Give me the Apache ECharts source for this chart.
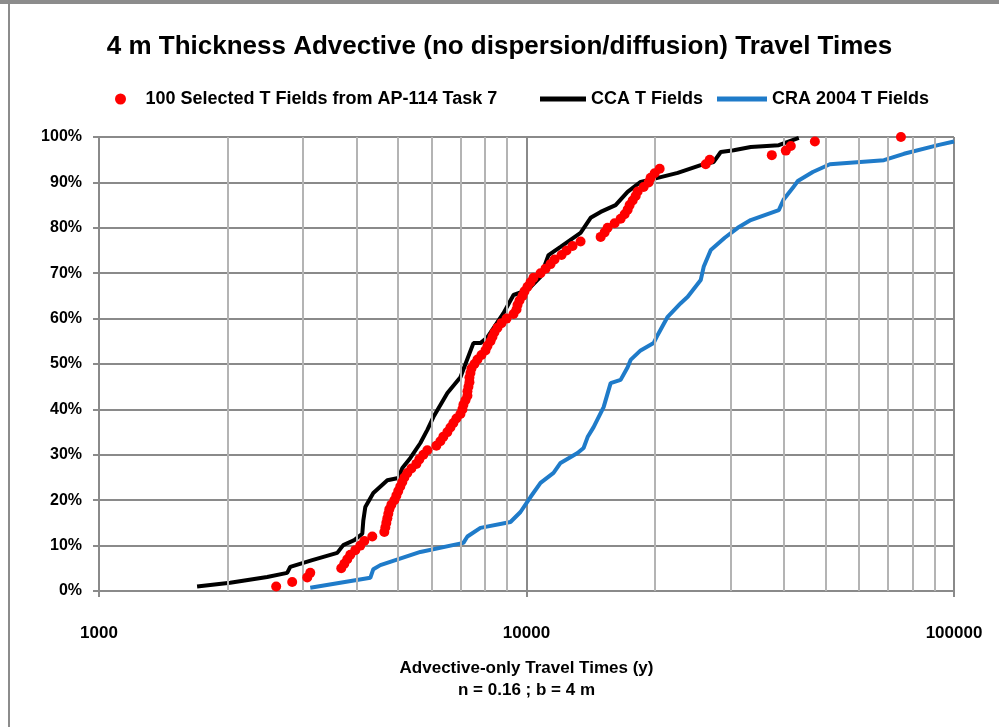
<!DOCTYPE html>
<html><head><meta charset="utf-8">
<script src="https://cdn.jsdelivr.net/npm/echarts@6/dist/echarts.min.js"></script>
<style>html,body{margin:0;padding:0;background:#fff}#c{width:999px;height:727px}</style>
</head><body><div id="c"></div>
<script>
// ---- Data ----
const titleText = '4 m Thickness Advective (no dispersion/diffusion) Travel Times';
const seriesNames = ['100 Selected T Fields from AP-114 Task 7', 'CCA T Fields', 'CRA 2004 T Fields'];
const xAxisName = 'Advective-only Travel Times (y)\nn = 0.16 ; b = 4 m';

// 100 selected T fields: travel time (y) and cumulative percent
const redTime = [2597,2831,3070,3120,3687,3748,3809,3871,3977,4085,
  4174,4358,4650,4675,4700,4726,4751,4777,4829,4908,
  4961,5012,5067,5122,5179,5263,5378,5525,5615,5737,
  5862,6154,6288,6391,6530,6637,6745,6855,7005,7081,
  7119,7197,7275,7275,7314,7354,7354,7394,7434,7555,
  7679,7846,8017,8104,8236,8325,8416,8553,8740,8979,
  9324,9476,9527,9630,9787,9893,10054,10218,10385,10784,
  11079,11382,11629,12077,12408,12815,13380,14910,15232,15480,
  16075,16604,16966,17242,17430,17714,18003,18198,18793,19307,
  19517,19942,20488,26259,26827,37482,40420,41525,47268,75136];
const redPct = [1,2,3,4,5,6,7,8,9,10,11,12,13,14,15,16,17,18,19,20,
  21,22,23,24,25,26,27,28,29,30,31,32,33,34,35,36,37,38,39,40,
  41,42,43,44,45,46,47,48,49,50,51,52,53,54,55,56,57,58,59,60,
  61,62,63,64,65,66,67,68,69,70,71,72,73,74,75,76,77,78,79,80,
  81,82,83,84,85,86,87,88,89,90,91,92,93,94,95,96,97,98,99,100];

// CCA T fields curve
const ccaTime = [1696,2026,2474,2756,2801,3154,3609,3727,3956,4129,4152,4197,4382,4726,5015,5124,5350,5646,5862,6056,6531,7005,7513,7803,8104,8834,9325,10054,10784,11260,12011,13380,14124,14910,16158,17236,18491,20270,22580,25560,27410,28470,30530,33460,38920,43350];
const ccaPct  = [1.0,1.8,3.1,4.0,5.3,6.8,8.4,10.1,11.2,12.6,15.5,18.5,21.6,24.4,24.9,27.1,29.3,32.6,35.5,38.3,43.6,47.1,54.6,54.6,55.9,61.2,65.2,66.3,69.2,74.0,75.8,78.9,82.2,83.5,85.0,87.9,90.1,91.0,92.1,93.8,94.5,96.7,97.1,97.8,98.2,99.8];

// CRA 2004 T fields curve
const craTime = [3120,4312,4382,4551,5646,7119,7274,7803,9173,9681,10218,10784,11567,12011,13165,13600,13898,14355,15150,15733,16603,17240,17520,18490,19830,20270,21390,22950,23830,25560,25970,26980,29090,31200,33460,38920,39990,41980,43120,46740,51240,68560,76370,91730,100000];
const craPct  = [0.7,2.9,4.8,5.7,8.6,10.6,12.0,13.9,15.2,17.4,20.7,23.8,26.0,28.2,30.4,31.5,33.9,36.1,40.5,45.8,46.5,49.3,50.9,53.0,54.6,56.4,60.4,63.4,64.8,68.5,71.4,75.1,77.8,80.0,81.7,83.9,86.3,88.8,90.3,92.3,94.0,94.9,96.3,98.2,99.0];

// minor vertical grid lines of the log axis
const minorGridX = [2000,3000,4000,5000,6000,7000,8000,9000,20000,30000,40000,50000,60000,70000,80000,90000];

const zip = (a, b) => a.map((v, i) => [v, b[i]]);
const NARROW = '"Liberation Sans Narrow", "Arial Narrow", sans-serif';
const SANS = '"Liberation Sans", Arial, sans-serif';

const chart = echarts.init(document.getElementById('c'), null, {renderer: 'canvas'});
chart.setOption({
  animation: false,
  backgroundColor: '#ffffff',
  title: {
    text: titleText, left: 'center', top: 29,
    textStyle: {fontFamily: NARROW, fontSize: 26, fontWeight: 'bold', color: '#000'}
  },
  legend: [
    {data: [{name: seriesNames[0], icon: 'circle'}], left: 110, top: 85, itemWidth: 40, itemHeight: 11,
     textStyle: {fontFamily: NARROW, fontSize: 18, fontWeight: 'bold', color: '#000'}},
    {data: [{name: seriesNames[1], icon: 'rect'}], left: 535, top: 85, itemWidth: 46, itemHeight: 5,
     textStyle: {fontFamily: NARROW, fontSize: 18, fontWeight: 'bold', color: '#000'}},
    {data: [{name: seriesNames[2], icon: 'rect'}], left: 712, top: 85, itemWidth: 50, itemHeight: 5,
     textStyle: {fontFamily: NARROW, fontSize: 18, fontWeight: 'bold', color: '#000'}}
  ],
  grid: {left: 99, right: 45, top: 137, bottom: 136, containLabel: false},
  xAxis: {
    type: 'log', logBase: 10, min: 1000, max: 100000,
    axisLine: {show: true, lineStyle: {color: '#8a8a8a', width: 2}},
    axisTick: {show: true, length: 6, lineStyle: {color: '#8a8a8a', width: 2}},
    axisLabel: {margin: 34, fontFamily: SANS, fontSize: 17, fontWeight: 'bold', color: '#000',
      formatter: v => String(Math.round(v))},
    splitLine: {show: true, lineStyle: {color: '#8a8a8a', width: 2}},
    name: xAxisName, nameLocation: 'middle', nameGap: 66,
    nameTextStyle: {fontFamily: NARROW, fontSize: 17, fontWeight: 'bold', color: '#000', lineHeight: 22}
  },
  yAxis: {
    type: 'value', min: 0, max: 100, interval: 10,
    axisLine: {show: true, lineStyle: {color: '#8a8a8a', width: 2}},
    axisTick: {show: true, length: 6, lineStyle: {color: '#8a8a8a', width: 2}},
    axisLabel: {margin: 17, fontFamily: SANS, fontSize: 16, fontWeight: 'bold', color: '#000',
      formatter: '{value}%'},
    splitLine: {show: true, lineStyle: {color: '#8a8a8a', width: 2}}
  },
  series: [
    {
      name: 'minorGrid', type: 'line', data: [], z: 1, silent: true,
      markLine: {
        silent: true, symbol: 'none', animation: false,
        label: {show: false},
        lineStyle: {color: '#b4b4b4', width: 2, type: 'solid'},
        data: minorGridX.map(v => ({xAxis: v}))
      }
    },
    {
      name: seriesNames[2], type: 'line', data: zip(craTime, craPct), showSymbol: false, symbol: 'none',
      lineStyle: {color: '#1f7bc9', width: 4}, itemStyle: {color: '#1f7bc9'}, z: 3
    },
    {
      name: seriesNames[1], type: 'line', data: zip(ccaTime, ccaPct), showSymbol: false, symbol: 'none',
      lineStyle: {color: '#000000', width: 4}, itemStyle: {color: '#000000'}, z: 4
    },
    {
      name: seriesNames[0], type: 'scatter', data: zip(redTime, redPct), symbol: 'circle', symbolSize: 10,
      itemStyle: {color: '#ff0000', opacity: 1}, z: 5
    }
  ],
  graphic: [
    {type: 'line', shape: {x1: 0, y1: 2, x2: 999, y2: 2}, style: {stroke: '#8c8c8c', lineWidth: 4}, z: 100},
    {type: 'line', shape: {x1: 9, y1: 2, x2: 9, y2: 727}, style: {stroke: '#8c8c8c', lineWidth: 2}, z: 100}
  ]
});
</script>
</body></html>
